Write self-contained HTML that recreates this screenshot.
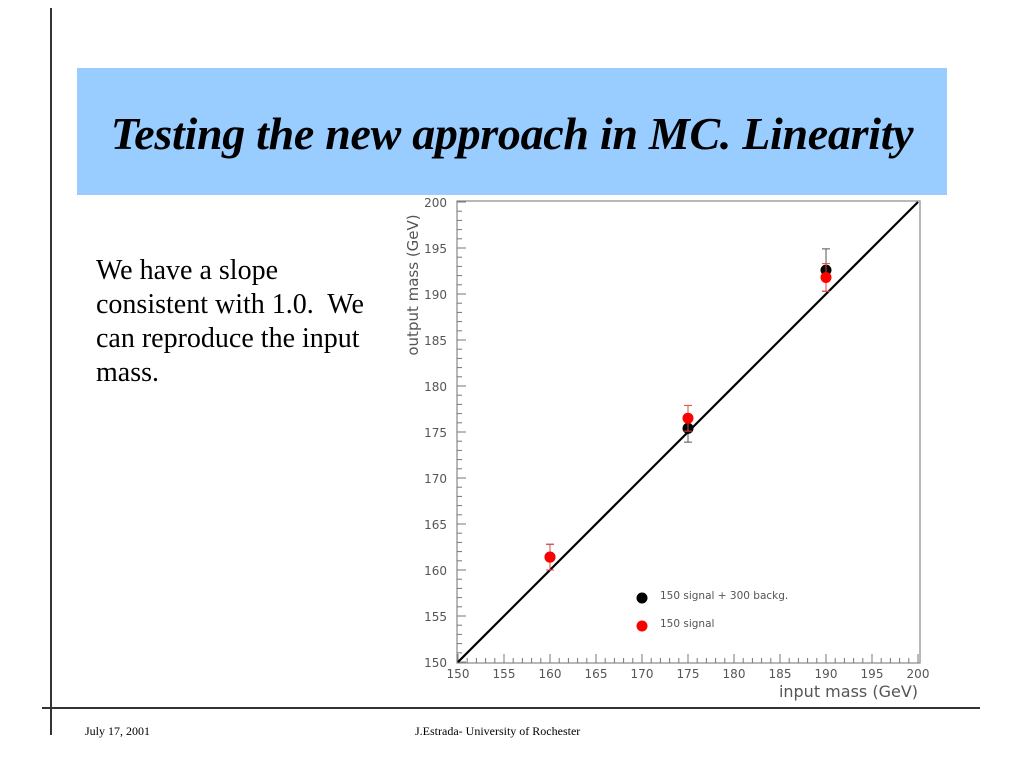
<!DOCTYPE html>
<html><head><meta charset="utf-8"><style>
body{margin:0;width:1024px;height:768px;background:#fff;position:relative;overflow:hidden;font-family:"Liberation Serif",serif}
.abs{position:absolute}
</style></head><body>
<div class="abs" style="left:50px;top:8px;width:1.5px;height:727px;background:#333"></div>
<div class="abs" style="left:42px;top:707px;width:938px;height:1.5px;background:#333"></div>
<div class="abs" style="left:77px;top:68px;width:870px;height:127px;background:#99ccff"></div>
<div class="abs" style="left:77px;top:108px;width:870px;text-align:center;font-size:46px;font-weight:bold;font-style:italic;line-height:52px;letter-spacing:-0.3px">Testing the new approach in MC. Linearity</div>
<div class="abs" style="left:96px;top:254px;width:290px;font-size:28px;line-height:34px">We have a slope consistent with 1.0.&nbsp; We can reproduce the input mass.</div>
<div class="abs" style="left:85px;top:724px;font-size:12px">July 17, 2001</div>
<div class="abs" style="left:415px;top:724px;font-size:12px">J.Estrada- University of Rochester</div>
<svg class="abs" style="left:0;top:0" width="1024" height="768" id="chart"></svg>
<script>
const xTicks=[150,155,160,165,170,175,180,185,190,195,200];
const yTicks=[150,155,160,165,170,175,180,185,190,195,200];
const inputMass=[160,175,190];
const blackVals=[161.4,175.4,192.6];
const blackErr=[1.4,1.5,2.3];
const redVals=[161.4,176.5,191.8];
const redErr=[1.4,1.4,1.5];
const fitLine=[[150,150],[200,200]];
const NS='http://www.w3.org/2000/svg';
const svg=document.getElementById('chart');
const X0=458,X1=918,Y0=662,Y1=202;
const sx=v=>X0+(v-150)/50*(X1-X0);
const sy=v=>Y0-(v-150)/50*(Y0-Y1);
function mk(t,a,p){const e=document.createElementNS(NS,t);for(const k in a)e.setAttribute(k,a[k]);(p||svg).appendChild(e);return e;}
let e;
e=mk('rect',{x:457,y:201,width:463,height:462,fill:'none',stroke:'#888','stroke-width':1.2});


const F='font-family:"DejaVu Sans",sans-serif;fill:#555';
for(let v=150;v<=200;v+=1){
  const big=v%5===0;
  e=mk('line',{x1:sx(v),x2:sx(v),y1:663,y2:663-(big?9:5),stroke:'#777'});
  
  
  e=mk('line',{x1:457,x2:457+(big?9:5),y1:sy(v),y2:sy(v),stroke:'#777'});
  
  
}
xTicks.forEach(v=>{e=mk('text',{x:sx(v),y:678,'text-anchor':'middle','font-size':12,style:F});e.textContent=v;
  
  });
yTicks.forEach(v=>{e=mk('text',{x:447,y:sy(v)+5,'text-anchor':'end','font-size':12,style:F});e.textContent=v;
  
  });
e=mk('text',{x:918,y:697,'text-anchor':'end','font-size':16,style:F});e.textContent='input mass (GeV)';


e=mk('text',{x:0,y:0,'text-anchor':'middle','font-size':15,style:F,transform:'translate(418,285) rotate(-90)'});e.textContent='output mass (GeV)';


e=mk('line',{x1:sx(fitLine[0][0]),y1:sy(fitLine[0][1]),x2:sx(fitLine[1][0]),y2:sy(fitLine[1][1]),stroke:'#000','stroke-width':2.2});


function series(vals,errs,col,ecol,name){
  inputMass.forEach((m,i)=>{
    const x=sx(m);
    e=mk('path',{d:`M${x-4},${sy(vals[i]+errs[i])}H${x+4}M${x},${sy(vals[i]+errs[i])}V${sy(vals[i]-errs[i])}M${x-4},${sy(vals[i]-errs[i])}H${x+4}`,stroke:ecol,'stroke-width':1,fill:'none'});
    
    
    e=mk('circle',{cx:x,cy:sy(vals[i]),r:5.5,fill:col});
    
    
  });
}
series(blackVals,blackErr,'#000','#555','signal-plus-background');
series(redVals,redErr,'#f00','#d44','signal-only');
e=mk('circle',{cx:642,cy:598,r:5.5,fill:'#000'});


e=mk('text',{x:660,y:599,'font-size':10.5,style:F});e.textContent='150 signal + 300 backg.';


e=mk('circle',{cx:642,cy:626,r:5.5,fill:'#f00'});


e=mk('text',{x:660,y:627,'font-size':10.5,style:F});e.textContent='150 signal';


</script>
</body></html>
